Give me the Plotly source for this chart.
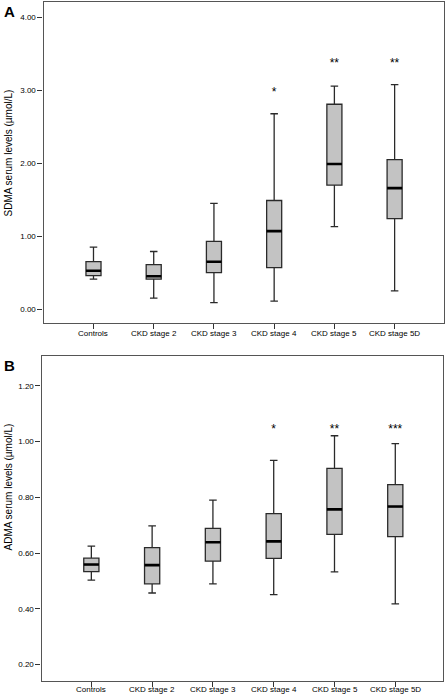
import plotly.graph_objects as go

categories = ["Controls", "CKD stage 2", "CKD stage 3", "CKD stage 4", "CKD stage 5", "CKD stage 5D"]

# Panel A: SDMA (µmol/L)
sdma_low = [0.41, 0.15, 0.09, 0.11, 1.13, 0.25]
sdma_q1 = [0.46, 0.41, 0.50, 0.57, 1.70, 1.24]
sdma_med = [0.525, 0.45, 0.65, 1.07, 1.99, 1.66]
sdma_q3 = [0.65, 0.61, 0.93, 1.49, 2.81, 2.05]
sdma_high = [0.85, 0.79, 1.45, 2.68, 3.06, 3.08]
sdma_stars = ["", "", "", "*", "**", "**"]
sdma_star_y = [None, None, None, 2.96, 3.36, 3.36]
sdma_ticks = [0.0, 1.0, 2.0, 3.0, 4.0]

# Panel B: ADMA (µmol/L)
adma_low = [0.503, 0.457, 0.49, 0.451, 0.533, 0.418]
adma_q1 = [0.534, 0.49, 0.571, 0.581, 0.667, 0.659]
adma_med = [0.559, 0.557, 0.639, 0.642, 0.757, 0.767]
adma_q3 = [0.582, 0.62, 0.689, 0.742, 0.904, 0.846]
adma_high = [0.625, 0.698, 0.79, 0.933, 1.021, 0.993]
adma_stars = ["", "", "", "*", "**", "***"]
adma_star_y = [None, None, None, 1.04, 1.04, 1.04]
adma_ticks = [0.2, 0.4, 0.6, 0.8, 1.0, 1.2]

W, H = 448, 695


def fx(px):
    return px / W


def fy(py):
    return 1 - py / H


pos = list(range(len(categories)))
BOXW = 0.25
FILL = "#c3c3c3"
EDGE = "#2a2a2a"
FONT = "Liberation Sans, Arial, sans-serif"

fig = go.Figure()


def add_panel(xa, ya, low, q1, med, q3, high, stars, star_y):
    fig.add_trace(go.Box(
        x=pos, q1=q1, median=med, q3=q3, lowerfence=low, upperfence=high,
        width=BOXW, whiskerwidth=0.5, fillcolor=FILL,
        line=dict(color=EDGE, width=1.3), boxpoints=False,
        xaxis=xa, yaxis=ya, showlegend=False, hoverinfo="skip"))
    mx, my = [], []
    for p, m in zip(pos, med):
        mx += [p - BOXW / 2, p + BOXW / 2, None]
        my += [m, m, None]
    fig.add_trace(go.Scatter(
        x=mx, y=my, mode="lines", line=dict(color="black", width=2.6),
        xaxis=xa, yaxis=ya, showlegend=False, hoverinfo="skip"))
    fig.add_trace(go.Scatter(
        x=pos, y=star_y, text=stars, mode="text", textposition="middle center",
        textfont=dict(family=FONT, size=12, color="black"),
        xaxis=xa, yaxis=ya, showlegend=False, hoverinfo="skip"))


add_panel("x", "y", sdma_low, sdma_q1, sdma_med, sdma_q3, sdma_high, sdma_stars, sdma_star_y)
add_panel("x2", "y2", adma_low, adma_q1, adma_med, adma_q3, adma_high, adma_stars, adma_star_y)

axis_common = dict(showline=True, mirror=True, linecolor="#555555", linewidth=1.2,
                   ticks="outside", ticklen=5, tickcolor="#333333", tickwidth=1,
                   showgrid=False, zeroline=False, automargin=False,
                   tickfont=dict(family=FONT, size=8, color="black"))

annotations = [
    dict(text="<b>A</b>", x=fx(2), y=fy(1), xref="paper", yref="paper",
         xanchor="left", yanchor="top", showarrow=False,
         font=dict(family=FONT, size=15, color="black")),
    dict(text="<b>B</b>", x=fx(2), y=fy(355), xref="paper", yref="paper",
         xanchor="left", yanchor="top", showarrow=False,
         font=dict(family=FONT, size=15, color="black")),
    dict(text="SDMA serum levels (µmol/L)", x=fx(7.5), y=fy(153),
         xref="paper", yref="paper", textangle=-90, showarrow=False,
         xanchor="center", yanchor="middle",
         font=dict(family=FONT, size=10, color="black")),
    dict(text="ADMA serum levels (µmol/L)", x=fx(7.5), y=fy(487),
         xref="paper", yref="paper", textangle=-90, showarrow=False,
         xanchor="center", yanchor="middle",
         font=dict(family=FONT, size=10, color="black")),
]
# category labels under each panel
for xref, ypx in (("x", 333), ("x2", 689)):
    for p, c in zip(pos, categories):
        annotations.append(dict(
            text=c, x=p, y=fy(ypx), xref=xref, yref="paper",
            xanchor="center", yanchor="middle", showarrow=False,
            font=dict(family=FONT, size=8, color="black")))

fig.update_layout(
    width=W, height=H, margin=dict(l=0, r=0, t=0, b=0),
    paper_bgcolor="white", plot_bgcolor="white",
    xaxis=dict(domain=[fx(43.5), fx(444)], range=[-0.83, 5.82],
               tickvals=pos, showticklabels=False, anchor="y", **axis_common),
    yaxis=dict(domain=[fy(323.3), fy(1.5)], range=[-0.195, 4.22],
               tickvals=sdma_ticks, tickformat=".2f", anchor="x", **axis_common),
    xaxis2=dict(domain=[fx(41.5), fx(442.7)], range=[-0.82, 5.78],
                tickvals=pos, showticklabels=False, anchor="y2", **axis_common),
    yaxis2=dict(domain=[fy(680.7), fy(356)], range=[0.1425, 1.307],
                tickvals=adma_ticks, tickformat=".2f", anchor="x2", **axis_common),
    annotations=annotations,
)

# remove the browser's default body margin so the figure sits at the page origin
fig.write_html("out.html", config={"displayModeBar": False},
               post_script="document.body.style.margin='0';document.body.style.overflow='hidden';")
